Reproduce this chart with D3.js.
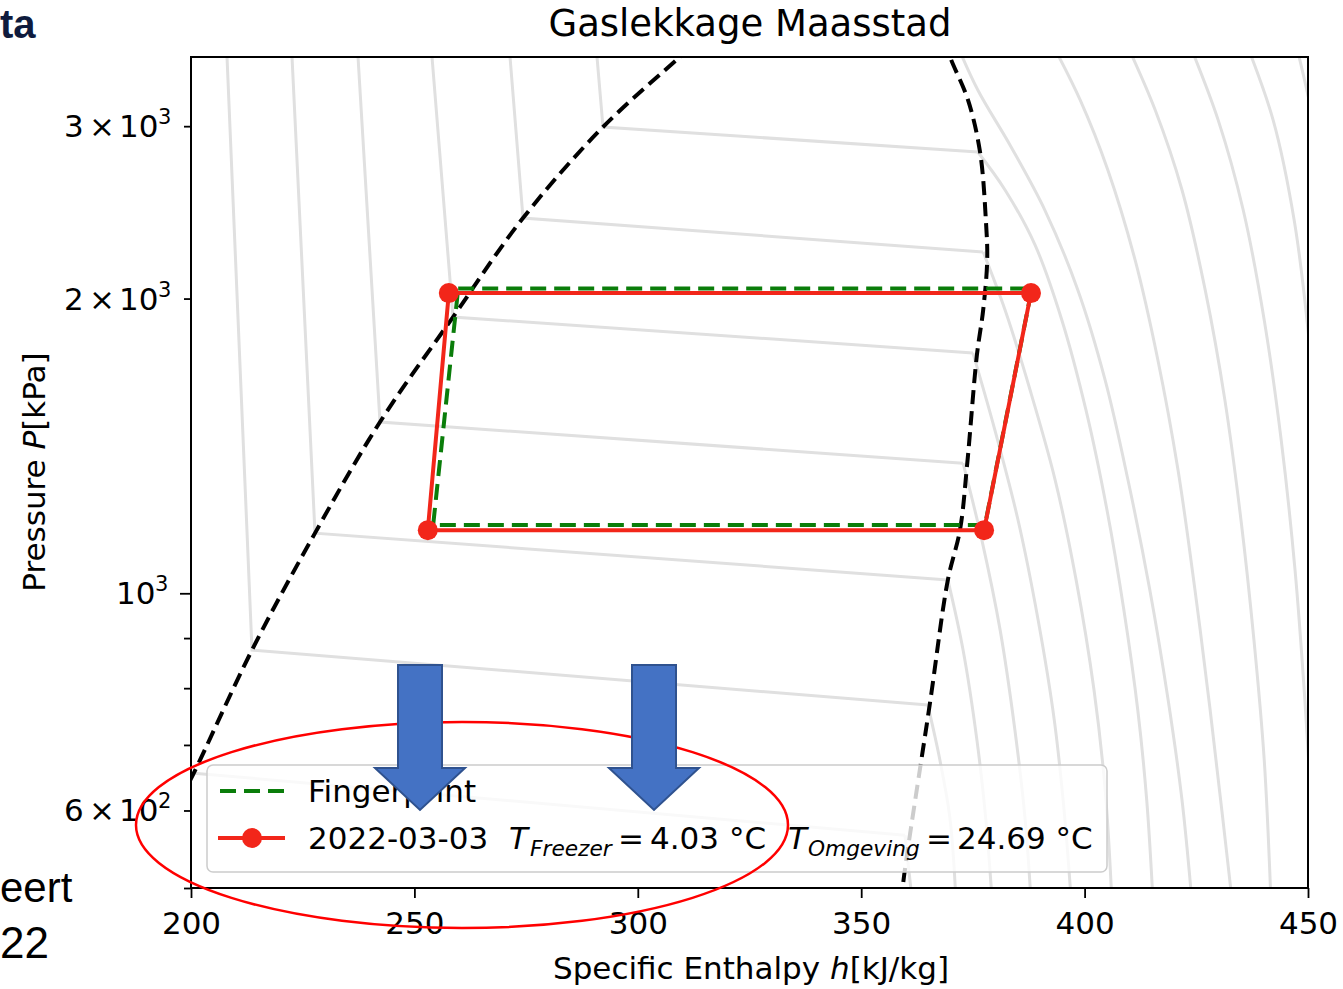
<!DOCTYPE html>
<html><head><meta charset="utf-8">
<script src="https://cdn.jsdelivr.net/npm/d3@7"></script>
<style>body{margin:0;background:#fff;} svg{display:block;}</style>
</head><body><svg id="c" width="1343" height="989"></svg>
<script>
// ---------- data ----------
const hTicks = [200, 250, 300, 350, 400, 450];
const pTicksLabeled = [600, 1000, 2000, 3000];
const pTicksMinor = [500, 700, 800, 900];
const pTickMantissa = {600: "6", 1000: null, 2000: "2", 3000: "3"};
const pTickExponent = {600: "2", 1000: "3", 2000: "3", 3000: "3"};

// saturation dome [h kJ/kg, P kPa]
const satLiquid = [[197.5,615],[200.4,652],[213.65,875],[227.75,1152],[242.3,1496],[258.64,1915],[274.31,2417],[292.21,2994],[309.44,3530],[313.9,3674]];
const satVapor = [[368.8,3674],[369.9,3530],[373.9,3191],[376.6,2823],[377.9,2406],[378.2,2190],[377.3,1947],[375.9,1752],[373.7,1352],[372.1,1160],[369.4,1032],[365.4,773],[359.4,506],[359.1,486]];

// isotherms: liquid + two-phase part (straight segments)
const isoTwoPhase = [
  [[200.67,655],[359.8,566]],
  [[208.06,3530],[213.65,875],[364.95,769]],
  [[222.61,3530],[227.75,1152],[369.43,1032]],
  [[237.38,3530],[242.30,1496],[372.78,1358]],
  [[253.94,3530],[258.64,1915],[375.02,1760]],
  [[271.40,3530],[274.31,2417],[377.26,2232]],
  [[290.87,3530],[292.21,2994],[376.14,2823]]
];
// isotherms: superheated part (smooth)
const isoSuperheated = [
  [[359.8,566],[361.4,486]],
  [[364.9,769],[367.6,676],[369.9,587],[371.2,486]],
  [[369.4,1032],[372.8,875],[375.9,708],[377.9,587],[379.3,486]],
  [[372.8,1358],[377.0,1134],[381.1,917],[384.4,725],[386.7,587],[388.0,486]],
  [[375.0,1760],[379.9,1469],[385.1,1188],[389.6,939],[393.2,743],[395.4,601],[397.0,486]],
  [[377.3,2232],[382.2,1947],[387.8,1613],[393.4,1306],[398.1,1032],[402.1,797],[404.6,630],[406.1,486]],
  [[376.1,2823],[382.2,2582],[388.9,2269],[394.9,1902],[400.3,1539],[405.0,1217],[408.8,961],[411.9,760],[413.9,615],[415.3,486]],
  [[371.0,3674],[376.1,3266],[383.3,2870],[391.1,2463],[398.5,2040],[404.6,1651],[409.7,1306],[414.6,1008],[418.7,778],[421.8,615],[424.0,486]],
  [[392.3,3674],[399.0,3191],[405.2,2706],[411.3,2190],[416.4,1731],[420.9,1337],[424.7,1008],[428.1,760],[430.7,601],[433.0,486]],
  [[409.0,3674],[415.8,3116],[421.8,2582],[427.0,2040],[431.4,1575],[435.0,1188],[437.9,896],[440.2,676],[441.7,486]],
  [[423.1,3674],[429.9,3043],[435.5,2463],[440.2,1902],[444.0,1434],[447.1,1056],[449.3,778],[450.9,587]],
  [[435.9,3674],[442.2,3043],[446.9,2406],[450.0,1858],[452.2,1401]],
  [[447.1,3674],[451.6,2973],[454.9,2350]]
];

// cycles
const fingerprint = [[259.8,2048],[388.2,2048],[377.7,1174],[254.2,1174],[259.8,2048]];
const measured = [[257.7,2026],[388.0,2026],[377.5,1160],[253.0,1160]];

const titleText = "Gaslekkage Maasstad";
const legendLabels = ["Fingerprint", "2022-03-03"];
const tFreezer = "4.03";
const tOmgeving = "24.69";

// ---------- drawing ----------
const svg = d3.select("#c");
const FONT = "DejaVu Sans, Verdana, sans-serif";
const x = d3.scaleLinear().domain([200, 450]).range([191, 1308]);
const y = d3.scaleLog().domain([500, 3530]).range([888, 57]);

svg.append("defs").append("clipPath").attr("id", "plotclip")
  .append("rect").attr("x", x(200)).attr("y", y(3530)).attr("width", x(450) - x(200)).attr("height", y(500) - y(3530));

const plot = svg.append("g").attr("clip-path", "url(#plotclip)");
const lin = d3.line().x(d => x(d[0])).y(d => y(d[1]));
const smooth = d3.line().x(d => x(d[0])).y(d => y(d[1])).curve(d3.curveCatmullRom.alpha(0.5));

plot.selectAll(".iso2p").data(isoTwoPhase).join("path")
  .attr("d", lin).attr("fill", "none").attr("stroke", "#e0e0e0").attr("stroke-width", 3);
plot.selectAll(".isosh").data(isoSuperheated).join("path")
  .attr("d", smooth).attr("fill", "none").attr("stroke", "#e0e0e0").attr("stroke-width", 3);

[satLiquid, satVapor].forEach(s => {
  plot.append("path").attr("d", smooth(s)).attr("fill", "none")
    .attr("stroke", "#000").attr("stroke-width", 4).attr("stroke-dasharray", "14,7");
});

plot.append("path").attr("d", lin(fingerprint)).attr("fill", "none")
  .attr("stroke", "#0a7d0a").attr("stroke-width", 4).attr("stroke-dasharray", "16,8");

const RED = "#f2261a";
plot.append("path").attr("d", lin(measured.concat([measured[0]]))).attr("fill", "none")
  .attr("stroke", RED).attr("stroke-width", 4).attr("stroke-linejoin", "round");
plot.selectAll(".pt").data(measured).join("circle")
  .attr("cx", d => x(d[0])).attr("cy", d => y(d[1])).attr("r", 10).attr("fill", RED);

// frame
svg.append("rect").attr("x", x(200)).attr("y", y(3530)).attr("width", x(450) - x(200)).attr("height", y(500) - y(3530))
  .attr("fill", "none").attr("stroke", "#000").attr("stroke-width", 2);

// x axis
const xa = svg.append("g").attr("transform", `translate(0,${y(500)})`)
  .call(d3.axisBottom(x).tickValues(hTicks).tickSize(10).tickSizeOuter(0).tickPadding(14).tickFormat(d3.format("d")));
xa.select(".domain").remove();
xa.selectAll("line").attr("stroke", "#000").attr("stroke-width", 1.8);
xa.selectAll("text").attr("font-family", FONT).attr("font-size", 31).attr("fill", "#000");

// y axis ticks
const ya1 = svg.append("g").attr("transform", `translate(${x(200)},0)`)
  .call(d3.axisLeft(y).tickValues([1000]).tickSize(11).tickSizeOuter(0).tickFormat(""));
const ya2 = svg.append("g").attr("transform", `translate(${x(200)},0)`)
  .call(d3.axisLeft(y).tickValues(pTicksLabeled.filter(v => v !== 1000).concat(pTicksMinor)).tickSize(7).tickSizeOuter(0).tickFormat(""));
[ya1, ya2].forEach(g => { g.select(".domain").remove(); g.selectAll("line").attr("stroke", "#000").attr("stroke-width", 1.8); });

// y tick labels (mathtext style)
pTicksLabeled.forEach(v => {
  const t = svg.append("text").attr("font-family", FONT).attr("font-size", 31).attr("fill", "#000")
    .attr("y", y(v) + 11);
  const m = pTickMantissa[v];
  if (m) {
    t.append("tspan").attr("x", 64).text(m);
    t.append("tspan").attr("x", 89).text("\u00d7");
    t.append("tspan").attr("x", 119).text("10");
    t.append("tspan").attr("x", 158).attr("dy", -13).attr("font-size", 21).text(pTickExponent[v]);
  } else {
    t.append("tspan").attr("x", 116).text("10");
    t.append("tspan").attr("x", 155).attr("dy", -13).attr("font-size", 21).text(pTickExponent[v]);
  }
});

// title & axis labels
svg.append("text").attr("x", 750).attr("y", 36).attr("text-anchor", "middle")
  .attr("font-family", FONT).attr("font-size", 37).attr("fill", "#000").text(titleText);
const xl = svg.append("text").attr("x", 751).attr("y", 979).attr("text-anchor", "middle")
  .attr("font-family", FONT).attr("font-size", 31).attr("fill", "#000");
xl.append("tspan").text("Specific Enthalpy ");
xl.append("tspan").attr("font-style", "italic").text("h");
xl.append("tspan").text("[kJ/kg]");
const yl = svg.append("text").attr("transform", "translate(45,472) rotate(-90)").attr("text-anchor", "middle")
  .attr("font-family", FONT).attr("font-size", 31).attr("fill", "#000");
yl.append("tspan").text("Pressure ");
yl.append("tspan").attr("font-style", "italic").text("P");
yl.append("tspan").text("[kPa]");

// legend
const lg = svg.append("g");
lg.append("rect").attr("x", 207).attr("y", 765).attr("width", 900).attr("height", 107).attr("rx", 6)
  .attr("fill", "#fff").attr("fill-opacity", 0.8).attr("stroke", "#cccccc").attr("stroke-width", 1.5);
lg.append("line").attr("x1", 220).attr("x2", 285).attr("y1", 791).attr("y2", 791)
  .attr("stroke", "#0a7d0a").attr("stroke-width", 4).attr("stroke-dasharray", "16,8");
lg.append("line").attr("x1", 218).attr("x2", 285).attr("y1", 838).attr("y2", 838)
  .attr("stroke", RED).attr("stroke-width", 4);
lg.append("circle").attr("cx", 252).attr("cy", 838).attr("r", 10).attr("fill", RED);
lg.append("text").attr("x", 308).attr("y", 802).attr("font-family", FONT).attr("font-size", 31).attr("fill", "#000").text(legendLabels[0]);
const l2 = lg.append("text").attr("y", 849).attr("font-family", FONT).attr("font-size", 31).attr("fill", "#000");
l2.append("tspan").attr("x", 308).text(legendLabels[1]);
l2.append("tspan").attr("x", 509).attr("font-style", "italic").text("T");
l2.append("tspan").attr("x", 530).attr("dy", 7).attr("font-style", "italic").attr("font-size", 21.7).text("Freezer");
l2.append("tspan").attr("x", 618).attr("dy", -7).text("=");
l2.append("tspan").attr("x", 650).text(tFreezer + " \u00b0C");
l2.append("tspan").attr("x", 788).attr("font-style", "italic").text("T");
l2.append("tspan").attr("x", 808).attr("dy", 7).attr("font-style", "italic").attr("font-size", 21.7).text("Omgeving");
l2.append("tspan").attr("x", 926).attr("dy", -7).text("=");
l2.append("tspan").attr("x", 957).text(tOmgeving + " \u00b0C");

// slide overlays (annotations on top of the figure)
const ann = svg.append("g");
ann.append("ellipse").attr("cx", 462).attr("cy", 825).attr("rx", 326).attr("ry", 103)
  .attr("fill", "none").attr("stroke", "#ff0000").attr("stroke-width", 2.5);
const arrowXs = [420, 654];
arrowXs.forEach(cx => {
  const pts = [[cx-22,665],[cx+22,665],[cx+22,768],[cx+45,768],[cx,810],[cx-45,768],[cx-22,768]];
  ann.append("polygon").attr("points", pts.map(p => p.join(",")).join(" "))
    .attr("fill", "#4472c4").attr("stroke", "#2f528f").attr("stroke-width", 2);
});
ann.append("text").attr("x", 0).attr("y", 38).attr("font-family", "Liberation Sans, Arial, sans-serif")
  .attr("font-weight", "bold").attr("font-size", 40).attr("fill", "#0f1b3d").text("ta");
ann.append("text").attr("x", 0).attr("y", 902).attr("font-family", "Liberation Sans, Arial, sans-serif")
  .attr("font-size", 42).attr("fill", "#000").text("eert");
ann.append("text").attr("x", 0).attr("y", 958).attr("font-family", "Liberation Sans, Arial, sans-serif")
  .attr("font-size", 44).attr("fill", "#000").text("22");
</script></body></html>
